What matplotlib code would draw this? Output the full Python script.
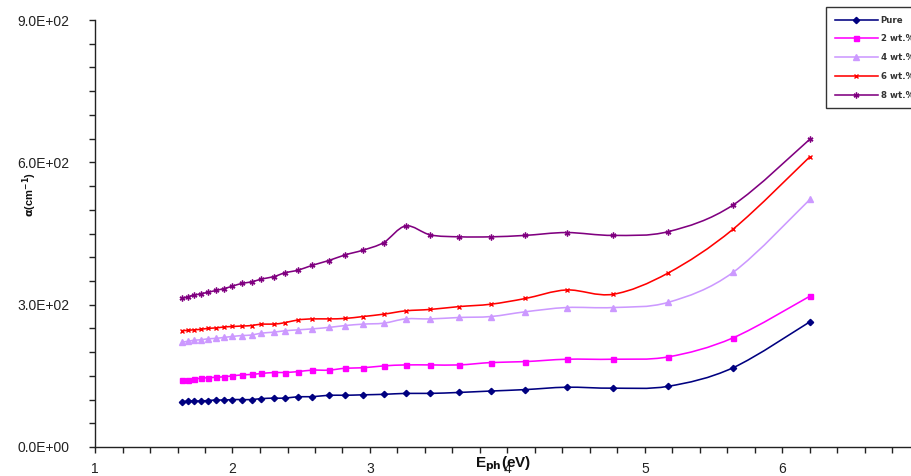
import matplotlib
matplotlib.use("Agg")
import matplotlib.pyplot as plt
import numpy as np
from matplotlib.path import Path
from matplotlib.patches import PathPatch
from matplotlib.lines import Line2D
from matplotlib.ticker import MultipleLocator, FuncFormatter
from matplotlib.font_manager import FontProperties

plt.rcParams['font.family'] = ['Liberation Sans', 'DejaVu Sans']

# photon energy (eV)
energy = [1.63, 1.68, 1.72, 1.77, 1.82, 1.88, 1.94, 2.00, 2.07, 2.14, 2.21, 2.30,
          2.38, 2.48, 2.58, 2.70, 2.82, 2.95, 3.10, 3.26, 3.44, 3.65, 3.88, 4.13,
          4.43, 4.77, 5.17, 5.64, 6.20]

pure = [95, 97, 97, 97, 98, 99, 99, 100, 100, 100, 102, 103, 103, 106, 106, 109,
        109, 110, 111, 113, 113, 115, 118, 121, 126, 124, 128, 167, 264]
wt2 = [141, 142, 143, 145, 146, 147, 148, 150, 152, 153, 155, 157, 157, 159, 162,
       162, 166, 167, 171, 173, 173, 173, 178, 180, 185, 185, 190, 230, 318]
wt4 = [221, 223, 225, 226, 228, 229, 231, 233, 235, 236, 240, 242, 245, 247, 249,
       252, 256, 259, 261, 270, 270, 273, 275, 285, 294, 294, 305, 368, 522]
wt6 = [245, 246, 247, 248, 250, 251, 253, 254, 255, 256, 259, 259, 262, 268, 270,
       270, 271, 275, 280, 287, 290, 296, 301, 313, 331, 322, 367, 459, 612]
wt8 = [313, 317, 320, 323, 326, 330, 334, 339, 345, 348, 354, 359, 367, 373, 383,
       393, 405, 415, 431, 466, 447, 443, 443, 446, 452, 446, 454, 510, 649]

labels = ["Pure", "2 wt.%", "4 wt.%", "6 wt.%", "8 wt.%"]
series = [pure, wt2, wt4, wt6, wt8]
colors = ["#000080", "#FF00FF", "#CC99FF", "#FF0000", "#800080"]
markers = ["D", "s", "^", "x", (6, 2, 0)]
msizes = [3.2, 3.6, 4.2, 3.5, 4.2]

fig = plt.figure(figsize=(9.12, 4.76), dpi=100)
ax = fig.add_axes([95 / 912, 29 / 476, (920 - 95) / 912, (447 - 20) / 476])
ax.set_xlim(1, 7)
ax.set_ylim(0, 900)
for s in ["top", "right"]:
    ax.spines[s].set_visible(False)
for s in ["left", "bottom"]:
    ax.spines[s].set_linewidth(1.0)
    ax.spines[s].set_color("#222222")


def smooth_path(xs, ys):
    p = np.column_stack([xs, ys]).astype(float)
    n = len(p)
    verts = [p[0]]
    codes = [Path.MOVETO]
    for i in range(n - 1):
        pm = p[i - 1] if i > 0 else p[i]
        pp = p[i + 2] if i + 2 < n else p[i + 1]
        c1 = p[i] + (p[i + 1] - pm) / 6.0
        c2 = p[i + 1] - (pp - p[i]) / 6.0
        verts += [c1, c2, p[i + 1]]
        codes += [Path.CURVE4] * 3
    return Path(verts, codes)


handles = []
for y, c, m, ms, lab in zip(series, colors, markers, msizes, labels):
    patch = PathPatch(smooth_path(energy, y), facecolor="none", edgecolor=c,
                      lw=1.15, transform=ax.transData, zorder=2)
    ax.add_patch(patch)
    ax.plot(energy, y, linestyle="none", marker=m, color=c, ms=ms,
            mec=c, mew=1.0, zorder=3)
    handles.append(Line2D([], [], color=c, lw=1.15, marker=m, ms=ms, mec=c, mew=1.0))

ax.xaxis.set_major_locator(MultipleLocator(1))
ax.xaxis.set_minor_locator(MultipleLocator(0.2))
ax.yaxis.set_major_locator(MultipleLocator(300))
ax.yaxis.set_minor_locator(MultipleLocator(50))
ax.yaxis.set_major_formatter(FuncFormatter(lambda v, p: f"{v:.1E}"))
ax.tick_params(axis="both", which="both", direction="out", length=4.5, width=1.0,
               color="#222222", labelsize=10, labelcolor="#222222")
ax.tick_params(axis="y", which="major", pad=14)
ax.tick_params(axis="x", which="major", pad=6)

fig.text(30 / 912, 1 - 195 / 476, r"$\mathbf{\alpha}$(cm$^{\mathbf{-1}}$)", rotation=90,
         ha="center", va="center", fontsize=8, fontweight="bold", color="#111111")
fig.text(503 / 912, 1 - 464 / 476, r"E$_{\mathbf{ph}}$(eV)", ha="center", va="center",
         fontsize=11, fontweight="bold", color="#111111")

legfont = FontProperties(family="DejaVu Sans", weight="bold", size=6.2)
leg = fig.legend(handles, labels, loc="upper left",
                 bbox_to_anchor=(826 / 912, 1 - 7 / 476), prop=legfont,
                 frameon=True, fancybox=False, handlelength=5.0, handletextpad=0.35,
                 labelspacing=1.13, borderpad=1.0, borderaxespad=0)
leg.get_frame().set_edgecolor("black")
leg.get_frame().set_linewidth(1.0)
for t in leg.get_texts():
    t.set_color("#333333")

fig.savefig("out.png", dpi=100)
